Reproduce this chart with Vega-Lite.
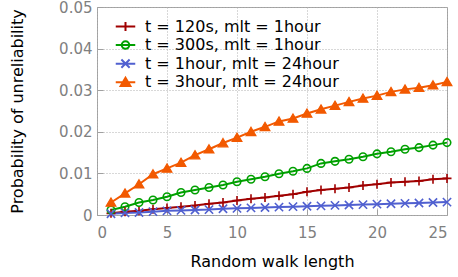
{
  "$schema": "https://vega.github.io/schema/vega-lite/v6.json",
  "width": 350,
  "height": 208,
  "autosize": "none",
  "padding": {"left": 97, "top": 7, "right": 11, "bottom": 62},
  "background": "white",
  "config": {
    "font": "DejaVu Sans",
    "view": {"stroke": "#a0a0a0", "strokeWidth": 1},
    "axis": {
      "domain": false,
      "grid": true,
      "gridColor": "#b0b0b0",
      "gridDash": [1, 2],
      "gridWidth": 1,
      "tickColor": "#a0a0a0",
      "tickSize": -6,
      "labelColor": "#808080",
      "labelFontSize": 15,
      "titleFontSize": 16,
      "titleFontWeight": "normal",
      "titleColor": "#000000"
    }
  },
  "datasets": {
    "pts": [
      {"x":1,"p":0.0004,"s":"t = 120s, mlt = 1hour"},{"x":2,"p":0.0008,"s":"t = 120s, mlt = 1hour"},{"x":3,"p":0.0010,"s":"t = 120s, mlt = 1hour"},{"x":4,"p":0.0014,"s":"t = 120s, mlt = 1hour"},{"x":5,"p":0.0017,"s":"t = 120s, mlt = 1hour"},{"x":6,"p":0.0020,"s":"t = 120s, mlt = 1hour"},{"x":7,"p":0.0023,"s":"t = 120s, mlt = 1hour"},{"x":8,"p":0.0027,"s":"t = 120s, mlt = 1hour"},{"x":9,"p":0.0030,"s":"t = 120s, mlt = 1hour"},{"x":10,"p":0.0035,"s":"t = 120s, mlt = 1hour"},{"x":11,"p":0.0039,"s":"t = 120s, mlt = 1hour"},{"x":12,"p":0.0042,"s":"t = 120s, mlt = 1hour"},{"x":13,"p":0.0046,"s":"t = 120s, mlt = 1hour"},{"x":14,"p":0.0050,"s":"t = 120s, mlt = 1hour"},{"x":15,"p":0.0056,"s":"t = 120s, mlt = 1hour"},{"x":16,"p":0.0060,"s":"t = 120s, mlt = 1hour"},{"x":17,"p":0.0063,"s":"t = 120s, mlt = 1hour"},{"x":18,"p":0.0066,"s":"t = 120s, mlt = 1hour"},{"x":19,"p":0.0071,"s":"t = 120s, mlt = 1hour"},{"x":20,"p":0.0074,"s":"t = 120s, mlt = 1hour"},{"x":21,"p":0.0078,"s":"t = 120s, mlt = 1hour"},{"x":22,"p":0.0080,"s":"t = 120s, mlt = 1hour"},{"x":23,"p":0.0082,"s":"t = 120s, mlt = 1hour"},{"x":24,"p":0.0086,"s":"t = 120s, mlt = 1hour"},{"x":25,"p":0.0088,"s":"t = 120s, mlt = 1hour"},
      {"x":1,"p":0.0012,"s":"t = 300s, mlt = 1hour"},{"x":2,"p":0.0020,"s":"t = 300s, mlt = 1hour"},{"x":3,"p":0.0030,"s":"t = 300s, mlt = 1hour"},{"x":4,"p":0.0036,"s":"t = 300s, mlt = 1hour"},{"x":5,"p":0.0044,"s":"t = 300s, mlt = 1hour"},{"x":6,"p":0.0054,"s":"t = 300s, mlt = 1hour"},{"x":7,"p":0.0060,"s":"t = 300s, mlt = 1hour"},{"x":8,"p":0.0066,"s":"t = 300s, mlt = 1hour"},{"x":9,"p":0.0072,"s":"t = 300s, mlt = 1hour"},{"x":10,"p":0.0080,"s":"t = 300s, mlt = 1hour"},{"x":11,"p":0.0086,"s":"t = 300s, mlt = 1hour"},{"x":12,"p":0.0092,"s":"t = 300s, mlt = 1hour"},{"x":13,"p":0.0099,"s":"t = 300s, mlt = 1hour"},{"x":14,"p":0.0105,"s":"t = 300s, mlt = 1hour"},{"x":15,"p":0.0112,"s":"t = 300s, mlt = 1hour"},{"x":16,"p":0.0124,"s":"t = 300s, mlt = 1hour"},{"x":17,"p":0.0129,"s":"t = 300s, mlt = 1hour"},{"x":18,"p":0.0134,"s":"t = 300s, mlt = 1hour"},{"x":19,"p":0.0140,"s":"t = 300s, mlt = 1hour"},{"x":20,"p":0.0147,"s":"t = 300s, mlt = 1hour"},{"x":21,"p":0.0152,"s":"t = 300s, mlt = 1hour"},{"x":22,"p":0.0158,"s":"t = 300s, mlt = 1hour"},{"x":23,"p":0.0162,"s":"t = 300s, mlt = 1hour"},{"x":24,"p":0.0168,"s":"t = 300s, mlt = 1hour"},{"x":25,"p":0.0174,"s":"t = 300s, mlt = 1hour"},
      {"x":1,"p":0.0003,"s":"t = 1hour, mlt = 24hour"},{"x":2,"p":0.0005,"s":"t = 1hour, mlt = 24hour"},{"x":3,"p":0.0006,"s":"t = 1hour, mlt = 24hour"},{"x":4,"p":0.0008,"s":"t = 1hour, mlt = 24hour"},{"x":5,"p":0.0010,"s":"t = 1hour, mlt = 24hour"},{"x":6,"p":0.0011,"s":"t = 1hour, mlt = 24hour"},{"x":7,"p":0.0012,"s":"t = 1hour, mlt = 24hour"},{"x":8,"p":0.0013,"s":"t = 1hour, mlt = 24hour"},{"x":9,"p":0.0015,"s":"t = 1hour, mlt = 24hour"},{"x":10,"p":0.0016,"s":"t = 1hour, mlt = 24hour"},{"x":11,"p":0.0017,"s":"t = 1hour, mlt = 24hour"},{"x":12,"p":0.0018,"s":"t = 1hour, mlt = 24hour"},{"x":13,"p":0.0019,"s":"t = 1hour, mlt = 24hour"},{"x":14,"p":0.0020,"s":"t = 1hour, mlt = 24hour"},{"x":15,"p":0.0021,"s":"t = 1hour, mlt = 24hour"},{"x":16,"p":0.0022,"s":"t = 1hour, mlt = 24hour"},{"x":17,"p":0.0023,"s":"t = 1hour, mlt = 24hour"},{"x":18,"p":0.0024,"s":"t = 1hour, mlt = 24hour"},{"x":19,"p":0.0025,"s":"t = 1hour, mlt = 24hour"},{"x":20,"p":0.0026,"s":"t = 1hour, mlt = 24hour"},{"x":21,"p":0.0027,"s":"t = 1hour, mlt = 24hour"},{"x":22,"p":0.0028,"s":"t = 1hour, mlt = 24hour"},{"x":23,"p":0.0029,"s":"t = 1hour, mlt = 24hour"},{"x":24,"p":0.0030,"s":"t = 1hour, mlt = 24hour"},{"x":25,"p":0.0031,"s":"t = 1hour, mlt = 24hour"},
      {"x":1,"p":0.0030,"s":"t = 3hour, mlt = 24hour"},{"x":2,"p":0.0052,"s":"t = 3hour, mlt = 24hour"},{"x":3,"p":0.0074,"s":"t = 3hour, mlt = 24hour"},{"x":4,"p":0.0098,"s":"t = 3hour, mlt = 24hour"},{"x":5,"p":0.0112,"s":"t = 3hour, mlt = 24hour"},{"x":6,"p":0.0126,"s":"t = 3hour, mlt = 24hour"},{"x":7,"p":0.0144,"s":"t = 3hour, mlt = 24hour"},{"x":8,"p":0.0158,"s":"t = 3hour, mlt = 24hour"},{"x":9,"p":0.0173,"s":"t = 3hour, mlt = 24hour"},{"x":10,"p":0.0186,"s":"t = 3hour, mlt = 24hour"},{"x":11,"p":0.0200,"s":"t = 3hour, mlt = 24hour"},{"x":12,"p":0.0212,"s":"t = 3hour, mlt = 24hour"},{"x":13,"p":0.0225,"s":"t = 3hour, mlt = 24hour"},{"x":14,"p":0.0232,"s":"t = 3hour, mlt = 24hour"},{"x":15,"p":0.0244,"s":"t = 3hour, mlt = 24hour"},{"x":16,"p":0.0254,"s":"t = 3hour, mlt = 24hour"},{"x":17,"p":0.0263,"s":"t = 3hour, mlt = 24hour"},{"x":18,"p":0.0272,"s":"t = 3hour, mlt = 24hour"},{"x":19,"p":0.0280,"s":"t = 3hour, mlt = 24hour"},{"x":20,"p":0.0287,"s":"t = 3hour, mlt = 24hour"},{"x":21,"p":0.0296,"s":"t = 3hour, mlt = 24hour"},{"x":22,"p":0.0302,"s":"t = 3hour, mlt = 24hour"},{"x":23,"p":0.0306,"s":"t = 3hour, mlt = 24hour"},{"x":24,"p":0.0312,"s":"t = 3hour, mlt = 24hour"},{"x":25,"p":0.0320,"s":"t = 3hour, mlt = 24hour"}
    ]
  },
  "data": {"name": "pts"},
  "encoding": {
    "x": {
      "field": "x", "type": "quantitative",
      "scale": {"domain": [0, 25], "nice": false},
      "axis": {"values": [0, 5, 10, 15, 20, 25], "title": "Random walk length", "labelPadding": 16, "titlePadding": 13}
    },
    "y": {
      "field": "p", "type": "quantitative",
      "scale": {"domain": [0, 0.05], "nice": false},
      "axis": {"values": [0, 0.01, 0.02, 0.03, 0.04, 0.05], "labelExpr": "datum.value === 0 ? '0' : format(datum.value, '.2f')", "title": "Probability of unreliability", "labelPadding": 11, "titlePadding": 33}
    },
    "color": {
      "field": "s", "type": "nominal",
      "scale": {
        "domain": ["t = 120s, mlt = 1hour", "t = 300s, mlt = 1hour", "t = 1hour, mlt = 24hour", "t = 3hour, mlt = 24hour"],
        "range": ["#a00000", "#00a000", "#5060d0", "#f25900"]
      },
      "legend": {
        "title": null,
        "orient": "none",
        "legendX": 20,
        "legendY": 11,
        "padding": 0,
        "labelFontSize": 16,
        "labelColor": "#000000",
        "labelOffset": 11,
        "labelLimit": 400,
        "symbolSize": 225,
        "symbolStrokeWidth": 2,
        "symbolOpacity": 1,
        "rowPadding": 1.6,
        "encode": {
          "symbols": {
            "update": {
              "shape": {"signal": "(datum.value === 't = 120s, mlt = 1hour' ? 'M-0.6,0H0.6M0,-0.6V0.6' : datum.value === 't = 300s, mlt = 1hour' ? 'M0.5,0A0.5,0.5,0,1,1,-0.5,0A0.5,0.5,0,1,1,0.5,0Z' : datum.value === 't = 1hour, mlt = 24hour' ? 'M-0.55,-0.55L0.55,0.55M-0.55,0.55L0.55,-0.55' : 'M0,-0.6L0.65,0.5L-0.65,0.5Z') + 'M-1.3,0H1.3'"},
              "fill": {"signal": "datum.value === 't = 3hour, mlt = 24hour' ? scale('color', datum.value) : 'transparent'"},
              "opacity": {"value": 1},
              "strokeWidth": {"value": 2}
            }
          }
        }
      }
    }
  },
  "layer": [
    {"mark": {"type": "line", "strokeWidth": 2}},
    {
      "transform": [{"filter": "datum.s === 't = 120s, mlt = 1hour'"}],
      "mark": {"type": "point", "shape": "M-0.6,0H0.6M0,-0.6V0.6", "filled": false, "size": 225, "strokeWidth": 1.6, "opacity": 1}
    },
    {
      "transform": [{"filter": "datum.s === 't = 300s, mlt = 1hour'"}],
      "mark": {"type": "point", "shape": "M0.5,0A0.5,0.5,0,1,1,-0.5,0A0.5,0.5,0,1,1,0.5,0Z", "filled": false, "size": 225, "strokeWidth": 1.6, "opacity": 1}
    },
    {
      "transform": [{"filter": "datum.s === 't = 1hour, mlt = 24hour'"}],
      "mark": {"type": "point", "shape": "M-0.55,-0.55L0.55,0.55M-0.55,0.55L0.55,-0.55", "filled": false, "size": 225, "strokeWidth": 1.6, "opacity": 1}
    },
    {
      "transform": [{"filter": "datum.s === 't = 3hour, mlt = 24hour'"}],
      "mark": {"type": "point", "shape": "M0,-0.6L0.65,0.5L-0.65,0.5Z", "filled": false, "fill": "#f25900", "size": 225, "strokeWidth": 1.2, "opacity": 1}
    }
  ]
}
